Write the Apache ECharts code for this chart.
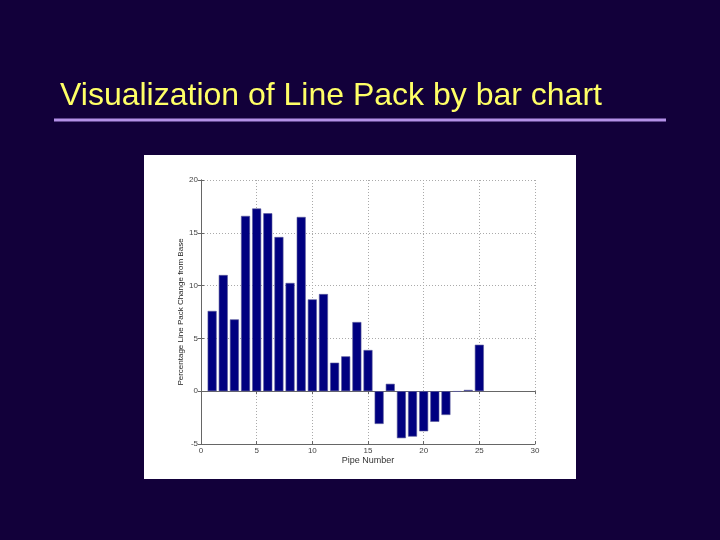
<!DOCTYPE html>
<html><head><meta charset="utf-8">
<script src="https://cdn.jsdelivr.net/npm/echarts@6/dist/echarts.min.js"></script>
<style>html,body{margin:0;padding:0;background:#12003a;}#c{width:720px;height:540px;}</style>
</head><body><div id="c"></div>
<script>
const pipeNumbers = [1,2,3,4,5,6,7,8,9,10,11,12,13,14,15,16,17,18,19,20,21,22,23,24,25];
const lineChange = [7.6,11.0,6.8,16.6,17.3,16.85,14.6,10.25,16.5,8.7,9.2,2.7,3.3,6.55,3.9,-3.1,0.7,-4.45,-4.3,-3.8,-2.9,-2.25,-0.05,0.12,4.4];
const xTicks = [0,5,10,15,20,25,30];
const yTicks = [-5,0,5,10,15,20];
const titleText = 'Visualization of Line Pack by bar chart';

const chart = echarts.init(document.getElementById('c'));
const tickFont = {fontFamily:'Liberation Sans', fontSize:8, color:'#444'};
chart.setOption({
  backgroundColor:'#12003a',
  animation:false,
  graphic:[
    {type:'rect', shape:{x:144,y:155,width:432,height:324}, style:{fill:'#ffffff'}, z:-10},
    {type:'text', x:60, y:112, style:{text:titleText, fill:'#ffff66', verticalAlign:'bottom', font:'32px "Liberation Sans", Arial, sans-serif'}},
    {type:'line', shape:{x1:54,y1:120,x2:666,y2:120}, style:{stroke:'#b490e8', lineWidth:3}}
  ],
  grid:{left:201, right:185, top:180, bottom:96, show:false},
  xAxis:[{
    type:'value', min:0, max:30, interval:5,
    name:'Pipe Number', nameLocation:'middle', nameGap:11,
    nameTextStyle:{fontFamily:'Liberation Sans', fontSize:9, color:'#333'},
    axisLine:{show:true, onZero:false, lineStyle:{color:'#666', width:1}},
    axisTick:{show:true, inside:true, length:3, lineStyle:{color:'#666'}},
    axisLabel:Object.assign({margin:3, formatter:v=>xTicks.includes(v)?String(v):''}, tickFont),
    splitLine:{show:true, lineStyle:{color:'#aaa', type:[1,2], width:1}}
  },{
    type:'value', min:0, max:30, interval:5, position:'top',
    axisLine:{show:true, lineStyle:{color:'#666'}}, axisTick:{show:true, inside:true, length:3, lineStyle:{color:'#666'}},
    axisLabel:{show:false}, splitLine:{show:false}
  }],
  yAxis:[{
    type:'value', min:-5, max:20, interval:5,
    name:'Percentage Line Pack Change from Base', nameLocation:'middle', nameGap:13, nameRotate:90,
    nameTextStyle:{fontFamily:'Liberation Sans', fontSize:8, color:'#222'},
    axisLine:{show:true, onZero:false, lineStyle:{color:'#666', width:1}},
    axisTick:{show:true, inside:true, length:3, lineStyle:{color:'#666'}},
    axisLabel:Object.assign({margin:3, formatter:v=>yTicks.includes(v)?String(v):''}, tickFont),
    splitLine:{show:true, lineStyle:{color:'#aaa', type:[1,2], width:1}}
  },{
    type:'value', min:-5, max:20, interval:5, position:'right',
    axisLine:{show:true, lineStyle:{color:'#666'}}, axisTick:{show:true, inside:true, length:3, lineStyle:{color:'#666'}},
    axisLabel:{show:false}, splitLine:{show:false}
  }],
  series:[{
    type:'bar', xAxisIndex:0, yAxisIndex:0,
    data:pipeNumbers.map((p,i)=>[p,lineChange[i]]),
    barWidth:9,
    itemStyle:{color:'#000080', borderColor:'#5a5a9a', borderWidth:0.6}
  }]
});
</script></body></html>
